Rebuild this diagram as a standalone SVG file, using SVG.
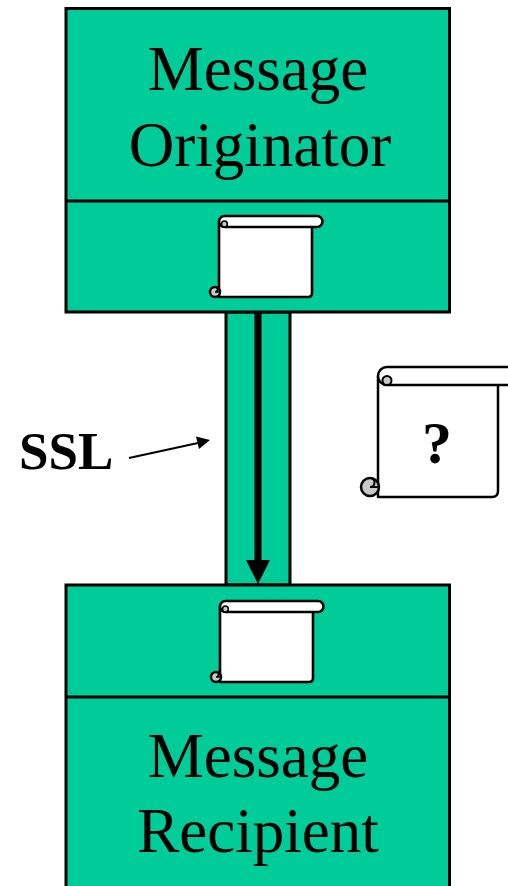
<svg xmlns="http://www.w3.org/2000/svg" xmlns:xlink="http://www.w3.org/1999/xlink" width="508" height="886" viewBox="0 0 508 886">
<style>
.box{fill:#00CC99;stroke:#000;stroke-width:3}
.big{font-family:"Liberation Serif","Times New Roman",serif;font-size:63px;fill:#000;text-anchor:middle}
.bold{font-family:"Liberation Serif","Times New Roman",serif;font-weight:bold;fill:#000}
.paper{fill:#fff;stroke:#000;stroke-linejoin:round}
.curl{fill:#c8c8c8;stroke:#000}
.line{fill:none;stroke:#000}
</style>
<defs>
<g id="scroll-small">
<path class="paper" stroke-width="2.6" d="M0,5.5 V81 H89 Q93,81 93,77 V5.5 Z"/>
<path class="paper" stroke-width="2.6" d="M5.5,0 H98 A5.5,5.5 0 0 1 98,11 H5.5 A5.5,5.5 0 0 1 5.5,0 Z"/>
<path class="curl" stroke-width="1.6" d="M5.5,11 A3,3 0 0 1 5.5,5 A2.8,2.8 0 0 1 8.3,8 A2.8,2.8 0 0 1 5.5,11 Z"/>
<circle class="curl" stroke-width="2.4" cx="-4" cy="76" r="5"/>
<path class="line" stroke-width="1.6" d="M-4,71 A2.5,2.5 0 0 1 -4,76 H0"/>
</g>
</defs>
<g id="pipe">
<rect class="box" x="226" y="312" width="64" height="273"/>
</g>
<g id="originator">
<rect class="box" x="66" y="8.5" width="383.5" height="303.5"/>
<line x1="66" y1="201" x2="449.5" y2="201" stroke="#000" stroke-width="3"/>
<text class="big" x="258" y="90">Message</text>
<text class="big" x="260" y="166">Originator</text>
<use xlink:href="#scroll-small" x="219" y="216"/>
</g>
<g id="recipient">
<rect class="box" x="66" y="585" width="383.5" height="320"/>
<line x1="66" y1="697" x2="449.5" y2="697" stroke="#000" stroke-width="3"/>
<text class="big" x="258" y="777">Message</text>
<text class="big" x="258" y="852">Recipient</text>
<use xlink:href="#scroll-small" x="220" y="601"/>
</g>
<g id="unknown-message">
<path class="paper" stroke-width="2.5" d="M378,376 V497 H492 Q498,497 498,491 V376 Z"/>
<path class="paper" stroke-width="2.5" d="M387,367 H515 V385 H387 A9,9 0 0 1 387,367 Z"/>
<path class="curl" stroke-width="2" d="M387,385 A4.5,4.5 0 0 1 387,376 A4.5,4.5 0 0 1 391.5,380.5 A4.5,4.5 0 0 1 387,385 Z"/>
<circle class="curl" stroke-width="2.5" cx="370" cy="487" r="9"/>
<path class="line" stroke-width="2" d="M370,478 A4.5,4.5 0 0 1 370,487 H378"/>
<text class="bold" x="437" y="463" font-size="60" text-anchor="middle">?</text>
</g>
<g id="ssl-label">
<text class="bold" x="19" y="469" font-size="53">SSL</text>
</g>
<g id="connectors">
<rect x="254.5" y="312" width="7" height="250" fill="#000"/>
<polygon points="246,560 270,560 258,584" fill="#000"/>
<line x1="129" y1="458" x2="198" y2="443" stroke="#000" stroke-width="2"/>
<polygon points="210,440 196,436.5 199,449" fill="#000"/>
</g>
</svg>
